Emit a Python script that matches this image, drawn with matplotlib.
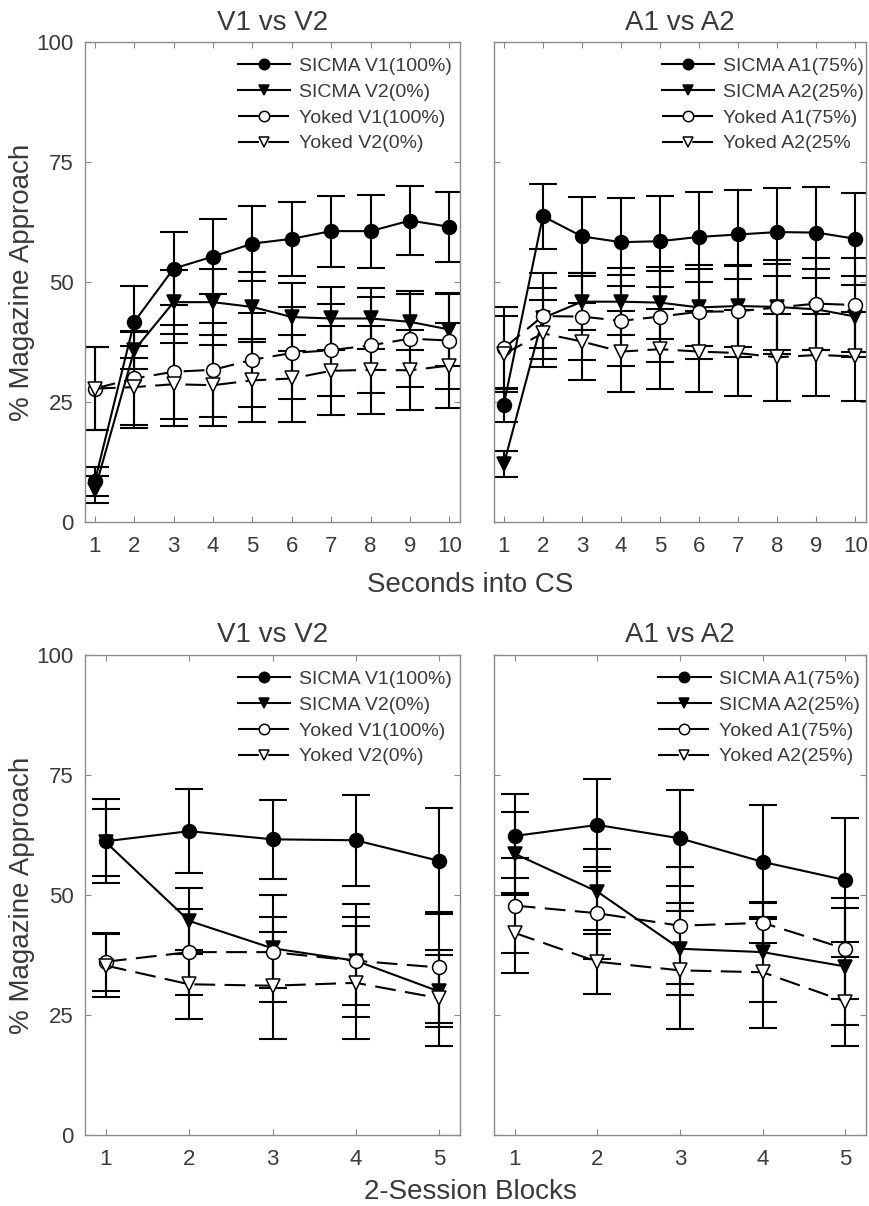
import matplotlib
matplotlib.use("Agg")
import matplotlib.pyplot as plt
import numpy as np

plt.rcParams['font.family'] = ['Liberation Sans', 'DejaVu Sans']

# ---------------- data ----------------
sec_x = [1, 2, 3, 4, 5, 6, 7, 8, 9, 10]
blk_x = [1, 2, 3, 4, 5]

# Top-left: V1 vs V2, seconds into CS
sec_sicma_v1 = [8.5, 41.7, 52.8, 55.3, 58.0, 59.0, 60.6, 60.6, 62.8, 61.5]
sec_sicma_v1_err = [3.0, 7.5, 7.6, 7.8, 7.8, 7.7, 7.4, 7.6, 7.2, 7.3]
sec_sicma_v2 = [6.7, 35.8, 45.8, 45.8, 44.8, 42.7, 42.4, 42.4, 41.7, 40.1]
sec_sicma_v2_err = [2.8, 4.0, 6.6, 6.9, 7.3, 7.0, 6.6, 6.4, 5.9, 7.5]
sec_yoked_v1 = [27.8, 29.9, 31.3, 31.7, 33.8, 35.2, 35.8, 36.8, 38.2, 37.8]
sec_yoked_v1_err = [8.7, 9.6, 9.8, 9.8, 9.8, 9.5, 9.6, 10.0, 10.0, 10.0]
sec_yoked_v2 = [27.8, 28.1, 28.7, 28.5, 29.5, 29.9, 31.5, 31.7, 31.6, 32.6]
sec_yoked_v2_err = [8.7, 8.5, 8.6, 8.4, 8.7, 9.1, 9.3, 9.1, 8.3, 8.8]

# Top-right: A1 vs A2, seconds into CS
sec_sicma_a1 = [24.4, 63.7, 59.5, 58.3, 58.5, 59.4, 59.9, 60.4, 60.3, 59.0]
sec_sicma_a1_err = [3.5, 6.8, 8.3, 9.2, 9.5, 9.3, 9.3, 9.2, 9.5, 9.6]
sec_sicma_a2 = [12.0, 42.5, 45.9, 45.9, 45.7, 44.7, 45.0, 44.8, 44.3, 42.8]
sec_sicma_a2_err = [2.7, 6.2, 6.0, 7.0, 7.5, 8.0, 8.5, 9.0, 8.5, 8.5]
sec_yoked_a1 = [36.2, 42.9, 42.8, 41.9, 42.8, 43.8, 43.9, 44.7, 45.5, 45.2]
sec_yoked_a1_err = [8.5, 9.0, 9.0, 9.5, 9.5, 9.8, 9.5, 9.8, 9.6, 9.8]
sec_yoked_a2 = [35.0, 39.3, 37.6, 35.5, 36.0, 35.5, 35.2, 34.3, 34.8, 34.5]
sec_yoked_a2_err = [8.0, 7.0, 8.0, 8.5, 8.3, 8.5, 8.9, 9.0, 8.6, 9.2]

# Bottom-left: V1 vs V2, 2-session blocks
blk_sicma_v1 = [61.2, 63.3, 61.6, 61.4, 57.1]
blk_sicma_v1_err = [8.8, 8.7, 8.2, 9.5, 11.0]
blk_sicma_v2 = [61.0, 44.6, 38.9, 36.3, 29.9]
blk_sicma_v2_err = [7.0, 6.8, 11.2, 11.8, 7.5]
blk_yoked_v1 = [36.1, 38.1, 38.1, 36.3, 34.9]
blk_yoked_v1_err = [6.0, 8.9, 7.4, 9.2, 11.5]
blk_yoked_v2 = [35.3, 31.4, 31.1, 31.7, 28.5]
blk_yoked_v2_err = [6.5, 7.2, 11.1, 11.8, 10.0]

# Bottom-right: A1 vs A2, 2-session blocks
blk_sicma_a1 = [62.3, 64.6, 61.8, 56.9, 53.1]
blk_sicma_a1_err = [8.8, 9.5, 10.0, 11.8, 12.9]
blk_sicma_a2 = [58.6, 50.7, 38.8, 38.1, 35.1]
blk_sicma_a2_err = [8.7, 8.9, 9.6, 10.4, 12.1]
blk_yoked_a1 = [47.8, 46.2, 43.6, 44.2, 38.8]
blk_yoked_a1_err = [9.9, 9.6, 12.2, 4.2, 10.5]
blk_yoked_a2 = [42.1, 36.1, 34.3, 33.9, 27.8]
blk_yoked_a2_err = [8.4, 6.7, 12.3, 11.6, 9.3]

legend_v = ['SICMA V1(100%)', 'SICMA V2(0%)', 'Yoked V1(100%)', 'Yoked V2(0%)']
legend_a_top = ['SICMA A1(75%)', 'SICMA A2(25%)', 'Yoked A1(75%)', 'Yoked A2(25%']
legend_a_bot = ['SICMA A1(75%)', 'SICMA A2(25%)', 'Yoked A1(75%)', 'Yoked A2(25%)']

# ---------------- drawing ----------------
W, H = 869, 1206
fig = plt.figure(figsize=(W / 100, H / 100), dpi=100)

TXT = '#3a3a3a'
FRAME = '#8a8a8a'

def ax_rect(l, r, t, b):
    return [l / W, 1 - b / H, (r - l) / W, (b - t) / H]

styles = [
    dict(marker='o', mfc='black', ls='-'),
    dict(marker='v', mfc='black', ls='-'),
    dict(marker='o', mfc='white', ls=(0, (10, 4.5))),
    dict(marker='v', mfc='white', ls=(0, (10, 4.5))),
]

def panel(rect, x, series, errs, labels, title, xlim, show_ylabels, leg_x):
    ax = fig.add_axes(rect)
    handles = []
    for y, e in zip(series, errs):
        ax.errorbar(x, y, yerr=e, fmt='none', ecolor='black', elinewidth=1.5,
                    capsize=10, capthick=1.5, zorder=2)
    for y, st, lab in zip(series, styles, labels):
        h, = ax.plot(x, y, color='black', lw=1.5, ls=st['ls'], marker=st['marker'],
                     ms=10, mfc=st['mfc'], mec='black', mew=1.1, label=lab, zorder=3)
        handles.append(h)
    ax.set_xlim(*xlim)
    ax.set_ylim(0, 100)
    ax.set_xticks(x)
    ax.set_yticks([0, 25, 50, 75, 100])
    ax.tick_params(direction='in', top=True, right=True, length=4, width=0.8,
                   color=FRAME, labelcolor=TXT, labelsize=16)
    ax.tick_params(axis='x', pad=10)
    ax.tick_params(axis='y', pad=8)
    if not show_ylabels:
        ax.set_yticklabels([])
    for s in ax.spines.values():
        s.set_color(FRAME)
        s.set_linewidth(1.0)
    ax.set_title(title, fontsize=20, color=TXT, pad=9)
    leg = ax.legend(handles=handles, loc='upper right', frameon=False, fontsize=14,
                    handlelength=2.7, labelspacing=0.42, handletextpad=0.45,
                    borderpad=0.1, borderaxespad=0.0, markerscale=0.75,
                    bbox_to_anchor=(leg_x, 0.972))
    for t in leg.get_texts():
        t.set_color(TXT)
    return ax

ax1 = panel(ax_rect(85, 460, 42, 522), sec_x,
            [sec_sicma_v1, sec_sicma_v2, sec_yoked_v1, sec_yoked_v2],
            [sec_sicma_v1_err, sec_sicma_v2_err, sec_yoked_v1_err, sec_yoked_v2_err],
            legend_v, 'V1 vs V2', (0.75, 10.27), True, 0.983)
ax2 = panel(ax_rect(494, 866, 42, 522), sec_x,
            [sec_sicma_a1, sec_sicma_a2, sec_yoked_a1, sec_yoked_a2],
            [sec_sicma_a1_err, sec_sicma_a2_err, sec_yoked_a1_err, sec_yoked_a2_err],
            legend_a_top, 'A1 vs A2', (0.75, 10.27), False, 1.0)
ax3 = panel(ax_rect(85, 460, 655, 1135), blk_x,
            [blk_sicma_v1, blk_sicma_v2, blk_yoked_v1, blk_yoked_v2],
            [blk_sicma_v1_err, blk_sicma_v2_err, blk_yoked_v1_err, blk_yoked_v2_err],
            legend_v, 'V1 vs V2', (0.75, 5.25), True, 0.983)
ax4 = panel(ax_rect(494, 866, 655, 1135), blk_x,
            [blk_sicma_a1, blk_sicma_a2, blk_yoked_a1, blk_yoked_a2],
            [blk_sicma_a1_err, blk_sicma_a2_err, blk_yoked_a1_err, blk_yoked_a2_err],
            legend_a_bot, 'A1 vs A2', (0.75, 5.25), False, 0.99)

for yc in (282, 895):
    fig.text(22 / W, 1 - yc / H, '% Magazine Approach', rotation=90,
             ha='center', va='center', fontsize=20, color=TXT)

fig.text(470 / W, 1 - 585 / H, 'Seconds into CS', ha='center', va='center',
         fontsize=20, color=TXT)
fig.text(470 / W, 1 - 1192 / H, '2-Session Blocks', ha='center', va='center',
         fontsize=20, color=TXT)

fig.savefig('out.png', dpi=100, facecolor='white')
